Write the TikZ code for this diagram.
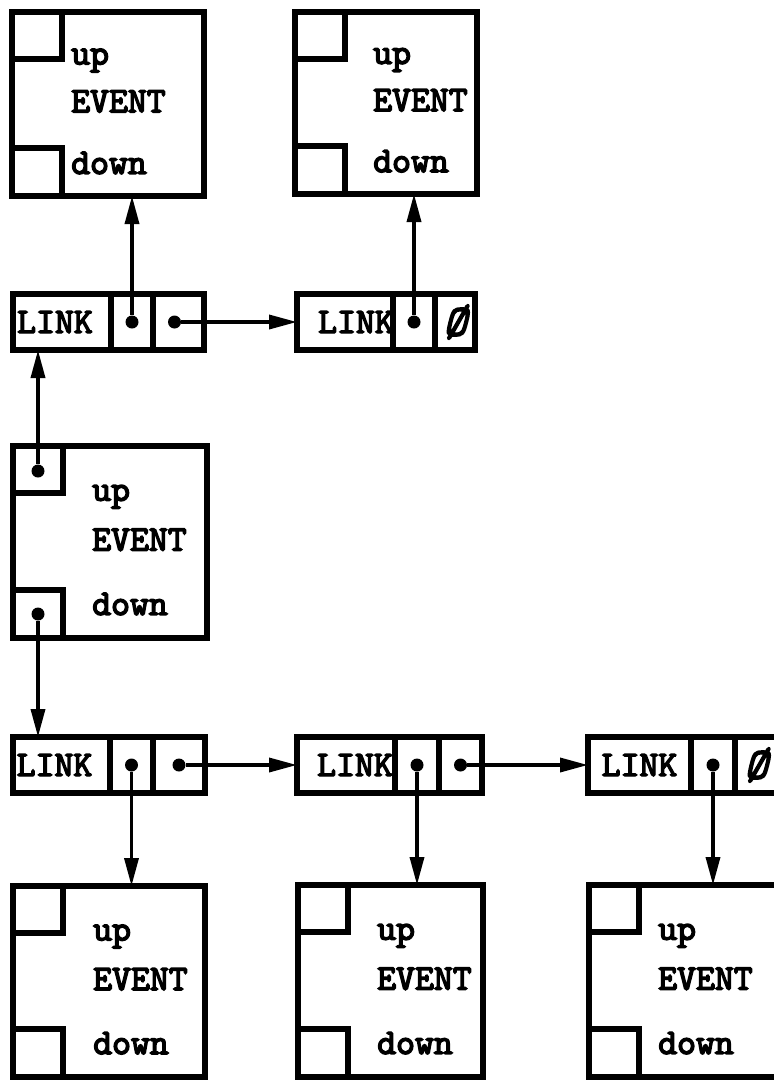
\documentclass[tikz,border=0pt]{standalone}
\usepackage{fontspec}
\usepackage{tikz}
\usetikzlibrary{arrows.meta,positioning,calc}
\newfontfamily\typer{lmmono10-regular.otf}[RawFeature={embolden=4}]
\newfontfamily\typersl{lmmono10-regular.otf}[RawFeature={embolden=4},FakeSlant=0.25]
\newcommand\linktext[1]{\hspace*{#1}LINK\hspace*{-#1}}

\begin{document}
\begin{tikzpicture}[x=1pt,y=-1pt,
  evbox/.style={draw,line width=5.5pt,inner sep=0pt,outer sep=0pt,anchor=north west},
  cell/.style={draw,line width=5.5pt,minimum height=56pt,inner sep=0pt,outer sep=0pt,
               font=\typer\fontsize{36}{40}\selectfont},
  txt/.style={anchor=base west,inner sep=0pt,font=\typer\fontsize{36}{40}\selectfont},
  nil/.style={font=\typersl\fontsize{44}{44}\selectfont},
  dot/.style={circle,fill,inner sep=0pt,minimum size=13pt},
  ptr/.style={-{Triangle[length=28pt,width=14pt]},line width=3.5pt}
]
\useasboundingbox (0,0) rectangle (774,1080);

% event records
\foreach \n/\x/\y/\w/\h/\t in {e1/12/12/192/184/59, e2/295/12/182/182/78,
    e3/13/446/194/192/79, e4/13/886/192/191/80, e5/298/885/185/192/79,
    e6/589/885/192/192/69}{
  \node[evbox,minimum width=\w pt,minimum height=\h pt] (\n) at (\x,\y) {};
  \draw[line width=5.5pt] (\n.north west) rectangle ++(50,47);
  \draw[line width=5.5pt] (\n.south west) rectangle ++(50,-48);
  \node[txt] (\n-up) at ($(\n.north west)!0.285!(\n.south west)+(\t,0)$) {up};
  \node[txt] (\n-ev) at ($(\n.north west)!0.545!(\n.south west)+(\t,0)$) {EVENT};
  \node[txt] (\n-dn) at ($(\n.north west)!0.88!(\n.south west)+(\t,0)$) {down};
}

% link records
\node[cell,minimum width=98pt,anchor=north west] (l1) at (13,294) {\linktext{-7pt}};
\node[cell,minimum width=42pt,right=0pt of l1] (l1p) {};
\node[cell,minimum width=51pt,right=0pt of l1p] (l1n) {};
\node[cell,minimum width=96pt,anchor=north west] (l2) at (297,294) {\linktext{11pt}};
\node[cell,minimum width=42pt,right=0pt of l2] (l2p) {};
\node[cell,minimum width=40pt,right=0pt of l2p,nil] (l2n) {Ø};
\node[cell,minimum width=97pt,anchor=north west] (l3) at (13,737) {\linktext{-7pt}};
\node[cell,minimum width=43pt,right=0pt of l3] (l3p) {};
\node[cell,minimum width=52pt,right=0pt of l3p] (l3n) {};
\node[cell,minimum width=98pt,anchor=north west] (l4) at (297,737) {\linktext{9pt}};
\node[cell,minimum width=44pt,right=0pt of l4] (l4p) {};
\node[cell,minimum width=43pt,right=0pt of l4p] (l4n) {};
\node[cell,minimum width=103pt,anchor=north west] (l5) at (588,737) {LINK};
\node[cell,minimum width=44pt,right=0pt of l5] (l5p) {};
\node[cell,minimum width=42pt,right=0pt of l5p,nil] (l5n) {Ø};

% pointers
\node[dot] (l1pd) at (l1p) {};
\node[dot] (l1nd) at ([xshift=-4pt]l1n.center) {};
\node[dot] (l2pd) at (l2p) {};
\node[dot] (l3pd) at (l3p) {};
\node[dot] (l3nd) at (l3n) {};
\node[dot] (l4pd) at (l4p) {};
\node[dot] (l4nd) at (l4n) {};
\node[dot] (l5pd) at (l5p) {};
\node[dot] (e3a) at ($(e3.north west)+(25,25)$) {};
\node[dot] (e3b) at ($(e3.south west)+(25,-24)$) {};

\draw[ptr] (l1pd) -- (l1pd |- e1.south);
\draw[ptr] (l1nd) -- (l2.west);
\draw[ptr] (l2pd) -- (l2pd |- e2.south);
\draw[ptr] (e3a) -- (e3a |- l1.south);
\draw[ptr] (e3b) -- (e3b |- l3.north);
\draw[ptr] (l3nd) -- (l4.west);
\draw[ptr] (l4nd) -- (l5.west);
\draw[ptr] (l3pd) -- (l3pd |- e4.north);
\draw[ptr] (l4pd) -- (l4pd |- e5.north);
\draw[ptr] (l5pd) -- (l5pd |- e6.north);
\end{tikzpicture}
\end{document}
